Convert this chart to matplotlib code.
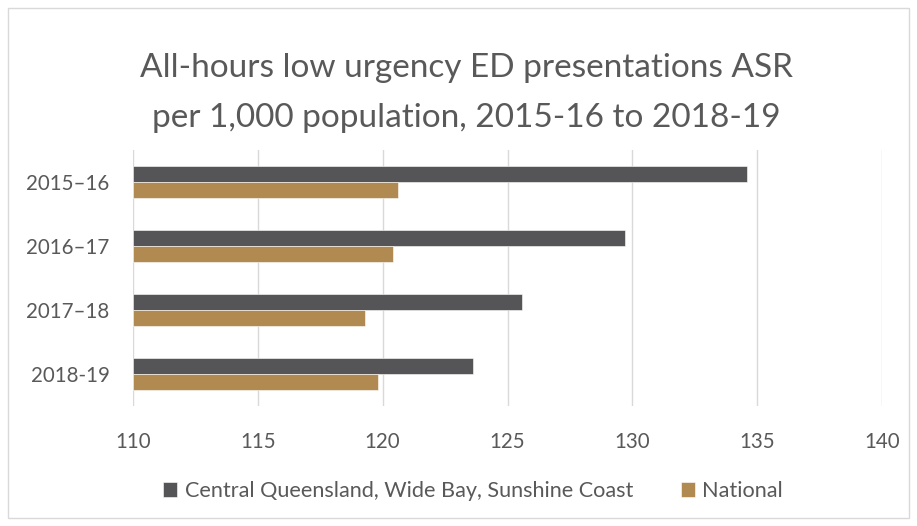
import matplotlib.pyplot as plt
import numpy as np
from matplotlib.patches import Rectangle

plt.rcParams["font.family"] = ["Lato", "DejaVu Sans"]

years = ["2015–16", "2016–17", "2017–18", "2018-19"]
region_vals = [134.6, 129.7, 125.6, 123.6]
national_vals = [120.6, 120.4, 119.3, 119.8]
series_names = ["Central Queensland, Wide Bay, Sunshine Coast", "National"]

dark = "#555557"
gold = "#B08A50"
txt = "#595959"

fig = plt.figure(figsize=(9.17, 5.26), dpi=100)
ax = fig.add_axes([133 / 917, 1 - 406 / 526, (882 - 133) / 917, (406 - 150) / 526])

y = np.arange(len(years))
h = 0.25
base = 110
ax.barh(y - h / 2, np.array(region_vals) - base, left=base, height=h,
        color=dark, edgecolor="white", linewidth=0.4, label=series_names[0], zorder=3)
ax.barh(y + h / 2, np.array(national_vals) - base, left=base, height=h,
        color=gold, edgecolor="white", linewidth=0.4, label=series_names[1], zorder=3)

ax.set_xlim(110, 140)
ax.set_ylim(len(years) - 0.5, -0.5)
ax.set_xticks(np.arange(110, 141, 5))
ax.set_yticks(y)
ax.set_yticklabels(years)
ax.grid(axis="x", color="#D9D9D9", linewidth=1, zorder=0)
for s in ax.spines.values():
    s.set_visible(False)
ax.tick_params(length=0, labelsize=14.8, colors=txt)
ax.tick_params(axis="x", pad=19)
ax.tick_params(axis="y", pad=17)

fig.text(466 / 917, 1 - 68 / 526, "All-hours low urgency ED presentations ASR",
         ha="center", va="center", fontsize=24, color=txt)
fig.text(466 / 917, 1 - 118 / 526, "per 1,000 population, 2015-16 to 2018-19",
         ha="center", va="center", fontsize=24, color=txt)

fig.legend(loc="center", bbox_to_anchor=(473 / 917, 1 - 491 / 526), ncol=2,
           frameon=False, fontsize=15.6, labelcolor=txt, handlelength=0.65,
           handleheight=0.65, handletextpad=0.35, columnspacing=2.2)

fig.patches.append(Rectangle((8 / 917, 8 / 526), 901 / 917, 510 / 526,
                             transform=fig.transFigure, fill=False,
                             edgecolor="#D9D9D9", linewidth=1))

fig.savefig("out.png", dpi=100, facecolor="white")
